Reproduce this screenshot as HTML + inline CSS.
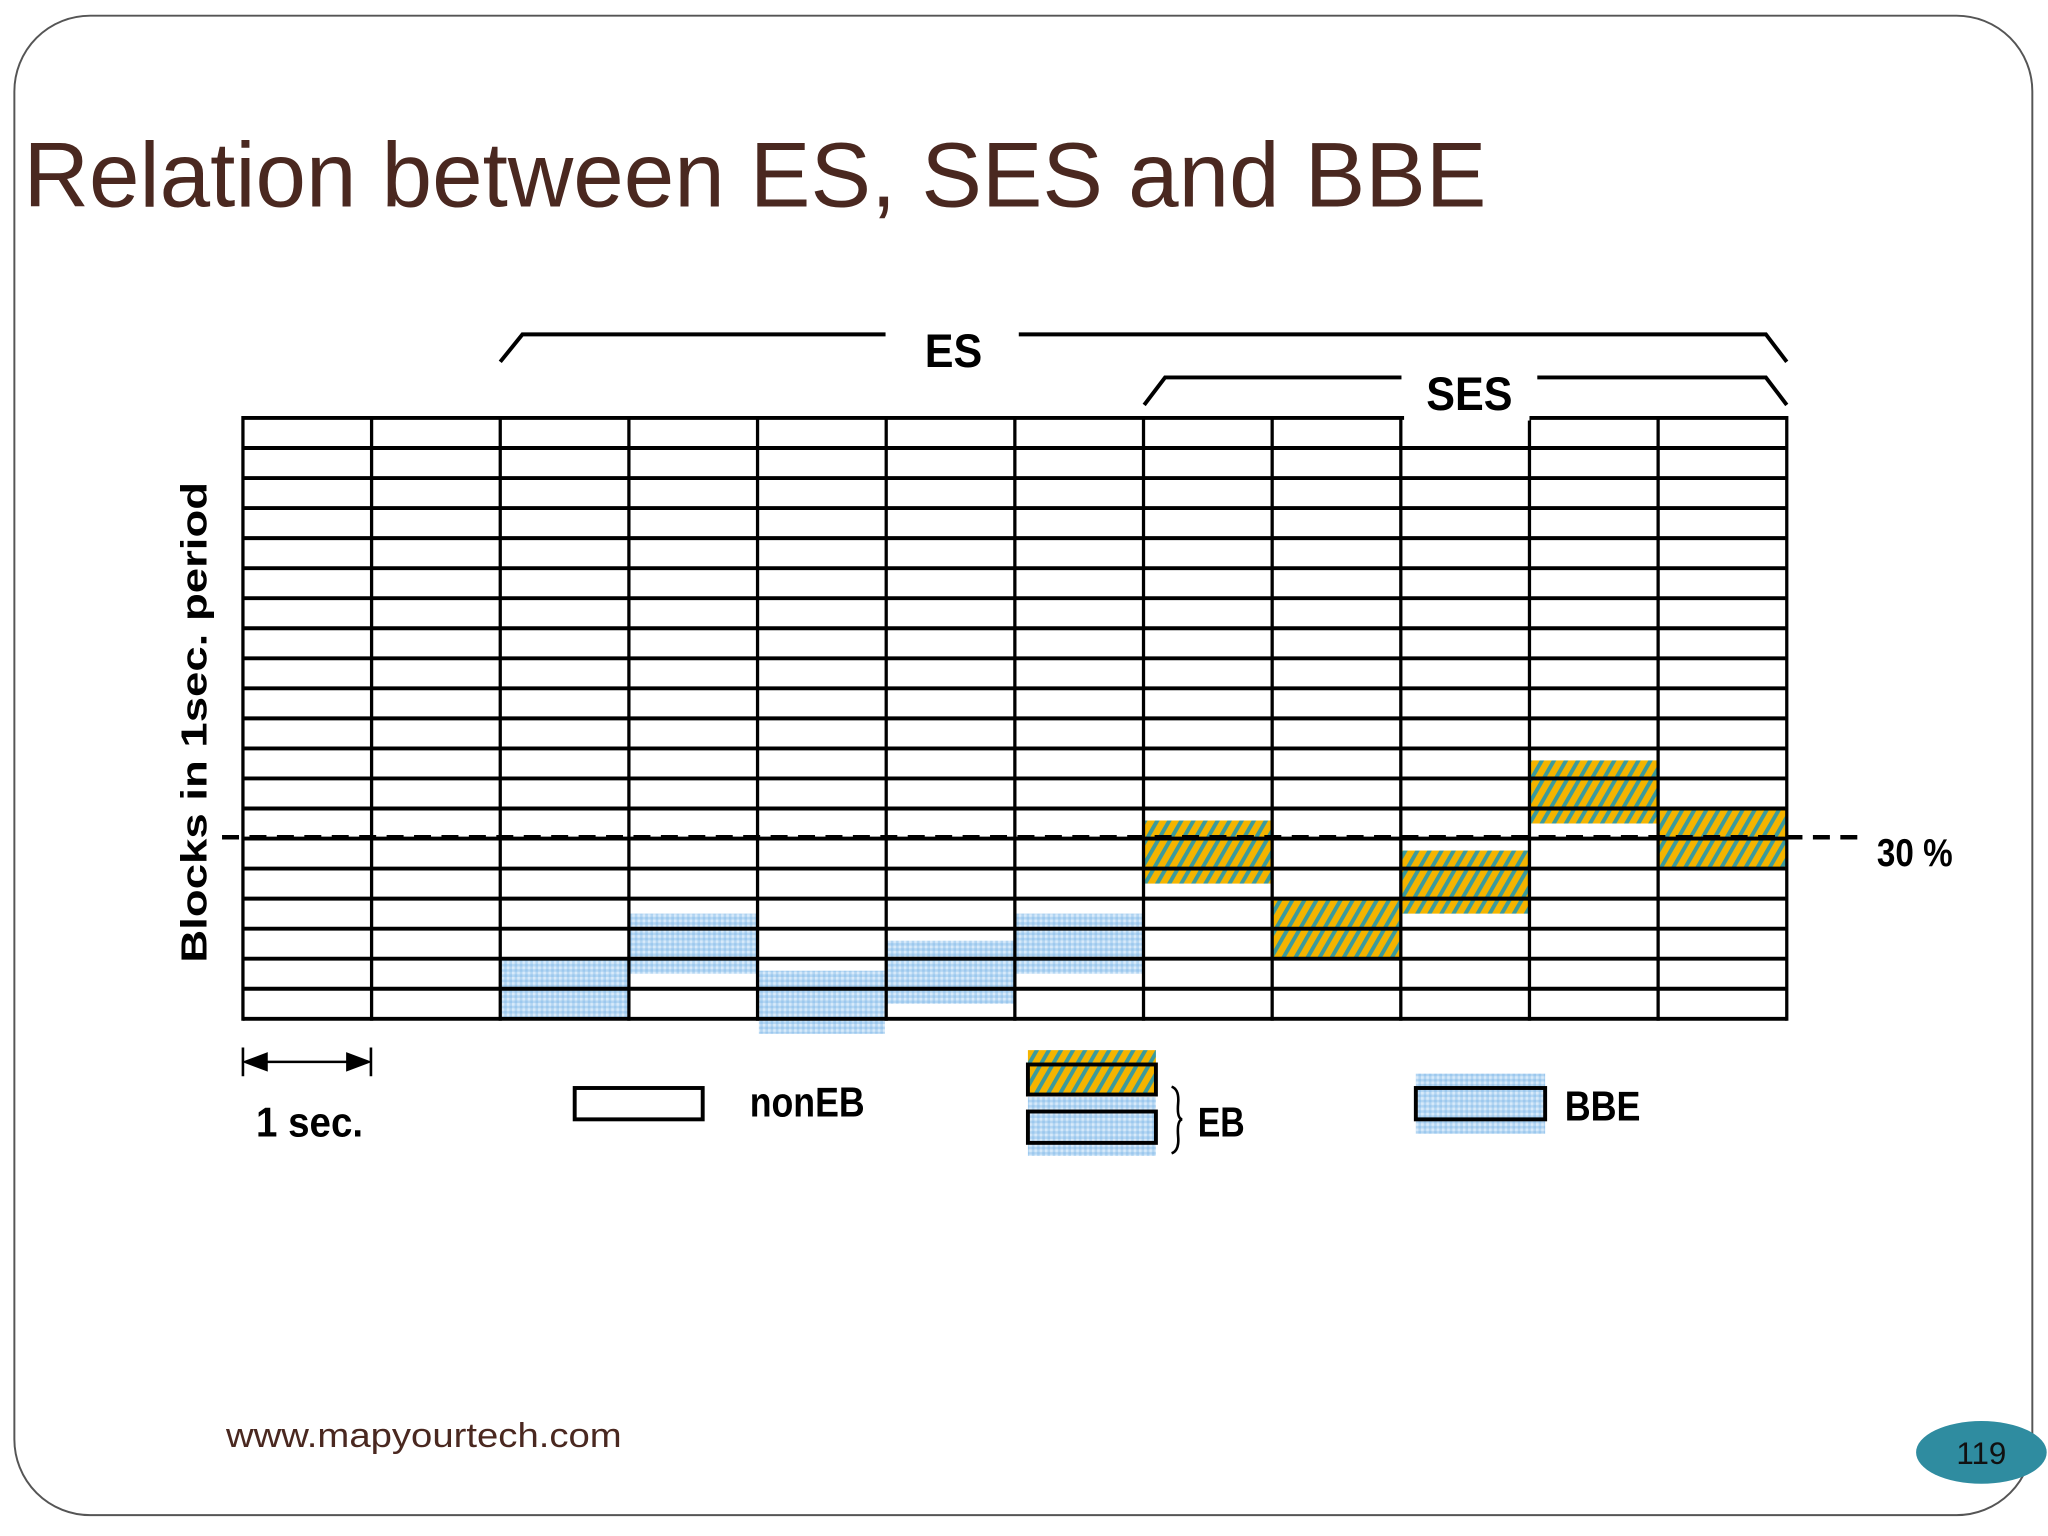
<!DOCTYPE html>
<html><head><meta charset="utf-8"><style>
html,body{margin:0;padding:0;background:#fff;}
svg{display:block;}
</style></head><body>
<svg id="chart" width="2048" height="1536" viewBox="0 0 1568 1176" xmlns="http://www.w3.org/2000/svg" font-family="Liberation Sans, sans-serif">
<defs>
<pattern id="ebPat" patternUnits="userSpaceOnUse" width="8" height="8" patternTransform="rotate(30)">
<rect width="8" height="8" fill="#f4b400"/>
<rect width="3" height="8" fill="#3b9a9c"/>
</pattern>
<pattern id="bbePat" patternUnits="userSpaceOnUse" width="4" height="4">
<rect width="4" height="4" fill="#b4d6f2"/>
<rect width="2" height="2" fill="#d8eafa"/>
<rect x="2" y="2" width="2" height="2" fill="#9cc8ee"/>
</pattern>
</defs>
<rect x="11" y="12" width="1545" height="1148" rx="58" fill="#fff" stroke="#555" stroke-width="1.5"/>
<text x="18" y="158" font-size="70" fill="#4a2820" textLength="1120" lengthAdjust="spacingAndGlyphs">Relation between ES, SES and BBE</text>
<g id="blocks"></g>
<g id="grid"></g>
<line x1="170" y1="641" x2="1428" y2="641" stroke="#000" stroke-width="3.5" stroke-dasharray="13,8"/>
<text x="1437" y="663" font-size="30" font-weight="bold" textLength="58" lengthAdjust="spacingAndGlyphs">30 %</text>
<text transform="translate(158,553) rotate(-90)" text-anchor="middle" font-size="28" font-weight="bold" textLength="368" lengthAdjust="spacingAndGlyphs">Blocks in 1sec. period</text>
<g stroke="#000" stroke-width="3" fill="none">
<polyline points="383,277 400,256 678,256"/><polyline points="780,256 1352,256 1368,277"/>
</g>
<text x="730" y="281" text-anchor="middle" font-size="36" font-weight="bold" textLength="44" lengthAdjust="spacingAndGlyphs">ES</text>
<rect x="1075" y="300" width="96" height="22" fill="#fff"/>
<g stroke="#000" stroke-width="3" fill="none">
<polyline points="876,310 892,289 1073,289"/><polyline points="1177,289 1352,289 1368,310"/>
</g>
<text x="1125" y="314" text-anchor="middle" font-size="36" font-weight="bold" textLength="66" lengthAdjust="spacingAndGlyphs">SES</text>
<g stroke="#000" stroke-width="2">
<line x1="186" y1="802" x2="186" y2="824"/><line x1="284" y1="802" x2="284" y2="824"/>
<line x1="190" y1="813" x2="280" y2="813"/>
<polygon points="188,813 204,807 204,819" fill="#000"/><polygon points="282,813 266,807 266,819" fill="#000"/>
</g>
<text x="196" y="870" font-size="32" font-weight="bold" textLength="82" lengthAdjust="spacingAndGlyphs">1 sec.</text>
<rect x="440" y="833" width="98" height="24" fill="#fff" stroke="#000" stroke-width="3"/>
<text x="574" y="855" font-size="32" font-weight="bold" textLength="88" lengthAdjust="spacingAndGlyphs">nonEB</text>
<rect x="787" y="804" width="98" height="34" fill="url(#ebPat)"/>
<rect x="787" y="815" width="98" height="23" fill="none" stroke="#000" stroke-width="3"/>
<rect x="787" y="840" width="98" height="45" fill="url(#bbePat)"/>
<rect x="787" y="851" width="98" height="24" fill="none" stroke="#000" stroke-width="3"/>
<path d="M897,832 Q903,834 902,845 Q901,856 905,857 Q901,858 902,870 Q903,881 897,883" fill="none" stroke="#000" stroke-width="2"/>
<text x="917" y="870" font-size="32" font-weight="bold" textLength="36" lengthAdjust="spacingAndGlyphs">EB</text>
<rect x="1084" y="822" width="99" height="46" fill="url(#bbePat)"/>
<rect x="1084" y="833" width="99" height="24" fill="none" stroke="#000" stroke-width="3"/>
<text x="1198" y="858" font-size="32" font-weight="bold" textLength="58" lengthAdjust="spacingAndGlyphs">BBE</text>
<text x="173" y="1108" font-size="26" fill="#4a2820" textLength="303" lengthAdjust="spacingAndGlyphs">www.mapyourtech.com</text>
<ellipse cx="1517" cy="1112" rx="50" ry="24" fill="#2f8ca0"/>
<text x="1517" y="1121" text-anchor="middle" font-size="24" fill="#111">119</text>
</svg>
<script>
// data: rows (block counts out of 20) per 1-sec column
const columns = ['s1','s2','s3','s4','s5','s6','s7','s8','s9','s10','s11','s12'];
const blockType = ['none','none','BBE','BBE','BBE','BBE','BBE','EB','EB','EB','EB','EB'];
const blockStart = [0,0,0,1.5,-0.5,0.5,1.5,4.5,2,3.5,6.5,5];
const blockSize = [0,0,2,2,2.1,2.1,2,2.1,2,2.1,2.1,2];
const totalRows = 20;
const thresholdRows = 6;

const NS='http://www.w3.org/2000/svg';
const X0=186, X1=1368, Y0=320, Y1=780;
const colW=(X1-X0)/columns.length, rowH=(Y1-Y0)/totalRows;
function xPos(i){return X0+i*colW;}
function yPos(r){return Y1-r*rowH;}
const blocks=document.getElementById('blocks');
columns.forEach((c,i)=>{
  if(blockType[i]==='none'||blockSize[i]<=0)return;
  const r=document.createElementNS(NS,'rect');
  r.setAttribute('x',xPos(i)+1);
  r.setAttribute('width',colW-2);
  r.setAttribute('y',yPos(blockStart[i]+blockSize[i]));
  r.setAttribute('height',blockSize[i]*rowH);
  r.setAttribute('fill',blockType[i]==='EB'?'url(#ebPat)':'url(#bbePat)');
  
  
  blocks.appendChild(r);
});
const grid=document.getElementById('grid');
for(let k=0;k<=totalRows;k++){
  const l=document.createElementNS(NS,'line');
  l.setAttribute('x1',X0);l.setAttribute('x2',X1);
  l.setAttribute('y1',yPos(k));l.setAttribute('y2',yPos(k));
  l.setAttribute('stroke','#000');l.setAttribute('stroke-width',3);
  
  
  grid.appendChild(l);
}
for(let i=0;i<=columns.length;i++){
  const l=document.createElementNS(NS,'line');
  l.setAttribute('x1',xPos(i));l.setAttribute('x2',xPos(i));
  l.setAttribute('y1',Y0-1.5);l.setAttribute('y2',Y1+1.5);
  l.setAttribute('stroke','#000');l.setAttribute('stroke-width',2.5);
  
  
  grid.appendChild(l);
}
</script>
</body></html>
